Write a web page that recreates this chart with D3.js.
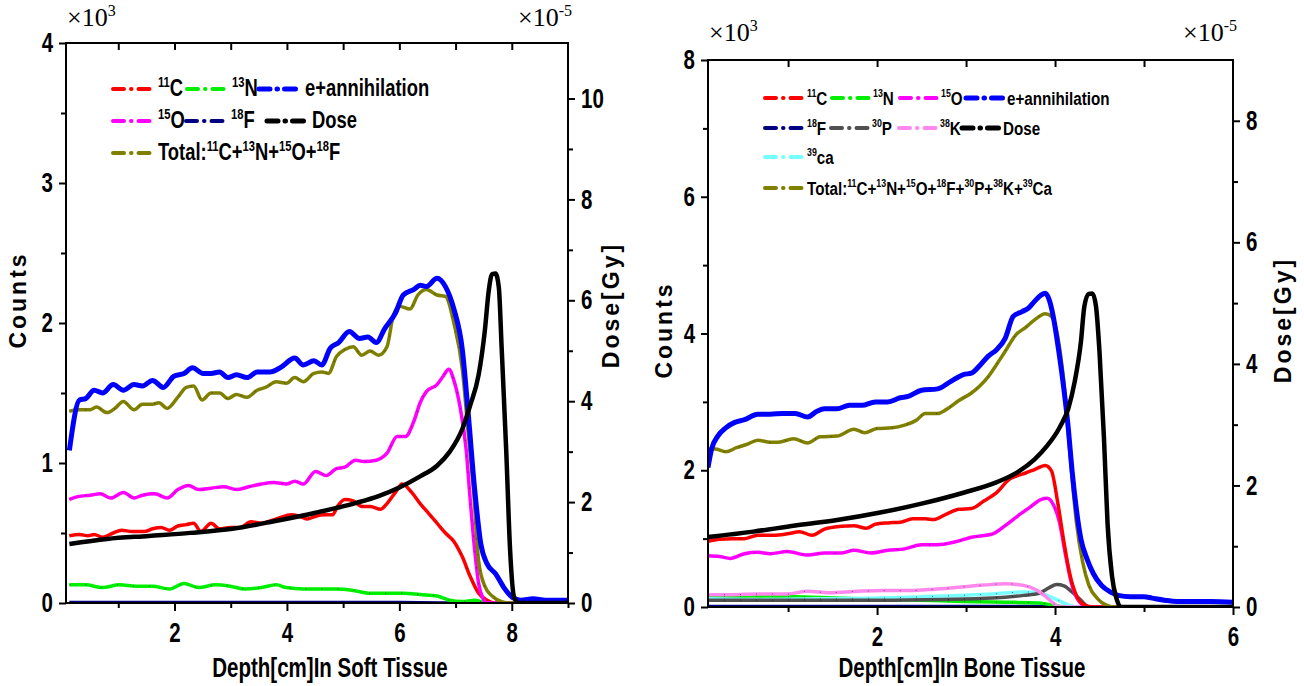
<!DOCTYPE html>
<html>
<head>
<meta charset="utf-8">
<script src="https://cdnjs.cloudflare.com/ajax/libs/d3/7.8.5/d3.min.js"></script>
<style>
  body { margin: 0; background: #fff; }
  .nar { font-family: 'Liberation Sans', Arial, sans-serif; font-weight: bold; transform-box: fill-box; }
  .nar-c { transform-origin: center; transform: scaleX(0.76); }
  .nar-l { transform-origin: left center; transform: scaleX(0.76); }
  .nar-r { transform-origin: right center; transform: scaleX(0.76); }
  .leg { transform-origin: left center; transform: scaleX(0.8); }
</style>
</head>
<body>
<script>
// ---- soft tissue: [depth cm, counts x1e3] / [depth cm, dose] ----
const softC11 = [[0.13,0.48],[0.31,0.49],[0.46,0.48],[0.57,0.49],[0.72,0.47],[0.91,0.50],[1.06,0.52],[1.24,0.51],[1.46,0.51],[1.61,0.53],[1.76,0.54],[1.91,0.52],[2.06,0.55],[2.21,0.56],[2.34,0.57],[2.47,0.51],[2.65,0.57],[2.80,0.53],[2.99,0.54],[3.17,0.54],[3.36,0.58],[3.55,0.57],[3.73,0.59],[3.88,0.61],[4.07,0.63],[4.22,0.62],[4.36,0.60],[4.51,0.62],[4.66,0.63],[4.81,0.63],[4.90,0.69],[5.03,0.74],[5.18,0.73],[5.33,0.69],[5.48,0.69],[5.67,0.67],[5.78,0.71],[5.93,0.79],[6.05,0.85],[6.22,0.79],[6.37,0.71],[6.52,0.64],[6.67,0.57],[6.82,0.50],[6.97,0.44],[7.12,0.33],[7.26,0.19],[7.41,0.07],[7.56,0.02],[7.71,0],[9.0,0]];
const softN13 = [[0.13,0.13],[0.42,0.13],[0.72,0.11],[1.02,0.13],[1.32,0.12],[1.61,0.12],[1.91,0.10],[2.17,0.14],[2.43,0.11],[2.73,0.13],[2.99,0.12],[3.25,0.10],[3.55,0.11],[3.81,0.13],[3.99,0.11],[4.29,0.10],[4.59,0.10],[4.88,0.10],[5.18,0.09],[5.48,0.07],[5.78,0.07],[6.07,0.07],[6.37,0.06],[6.67,0.05],[6.89,0.02],[7.12,0.01],[7.34,0.02],[7.56,0],[9.0,0]];
const softO15 = [[0.13,0.74],[0.28,0.76],[0.50,0.77],[0.68,0.78],[0.87,0.75],[1.09,0.79],[1.28,0.75],[1.43,0.77],[1.65,0.78],[1.87,0.75],[2.06,0.81],[2.25,0.84],[2.43,0.81],[2.65,0.82],[2.88,0.83],[3.10,0.81],[3.32,0.83],[3.55,0.85],[3.77,0.86],[3.99,0.85],[4.14,0.87],[4.29,0.85],[4.51,0.94],[4.70,0.91],[4.88,0.96],[5.03,0.97],[5.22,1.02],[5.37,1.01],[5.59,1.02],[5.78,1.07],[5.96,1.19],[6.11,1.19],[6.26,1.30],[6.37,1.43],[6.48,1.51],[6.67,1.56],[6.78,1.62],[6.88,1.67],[6.97,1.59],[7.08,1.40],[7.19,1.09],[7.26,0.74],[7.34,0.38],[7.41,0.14],[7.49,0.03],[7.56,0],[9.0,0]];
const softF18 = [[0.13,0.005],[3.0,0.005],[6.0,0.005],[7.5,0],[9.0,0]];
const softAnnih = [[0.13,1.09],[0.31,1.45],[0.42,1.46],[0.57,1.52],[0.72,1.50],[0.91,1.56],[1.09,1.52],[1.28,1.56],[1.43,1.55],[1.61,1.59],[1.80,1.54],[1.99,1.62],[2.17,1.64],[2.32,1.68],[2.51,1.64],[2.65,1.64],[2.80,1.65],[2.95,1.61],[3.10,1.63],[3.29,1.61],[3.47,1.65],[3.70,1.65],[3.88,1.68],[4.14,1.75],[4.29,1.70],[4.48,1.73],[4.62,1.70],[4.77,1.82],[4.92,1.86],[5.11,1.94],[5.29,1.89],[5.44,1.90],[5.59,1.86],[5.74,1.96],[5.93,2.07],[6.07,2.20],[6.26,2.24],[6.37,2.27],[6.48,2.26],[6.67,2.32],[6.82,2.26],[6.97,2.10],[7.12,1.81],[7.23,1.33],[7.34,0.81],[7.45,0.42],[7.56,0.28],[7.71,0.21],[7.86,0.11],[8.01,0.04],[8.16,0.02],[8.38,0.03],[8.60,0.02],[9.0,0.02]];
const softTotal = [[0.13,1.37],[0.31,1.38],[0.50,1.38],[0.61,1.40],[0.80,1.36],[0.94,1.39],[1.09,1.44],[1.28,1.38],[1.43,1.42],[1.61,1.42],[1.72,1.43],[1.87,1.39],[2.06,1.47],[2.21,1.54],[2.34,1.55],[2.49,1.45],[2.65,1.50],[2.80,1.50],[2.95,1.46],[3.10,1.49],[3.29,1.47],[3.47,1.52],[3.62,1.54],[3.81,1.58],[3.99,1.57],[4.14,1.61],[4.29,1.58],[4.48,1.64],[4.62,1.65],[4.74,1.64],[4.88,1.76],[5.03,1.81],[5.18,1.83],[5.33,1.77],[5.48,1.80],[5.63,1.77],[5.78,1.83],[5.89,2.05],[6.00,2.12],[6.19,2.10],[6.33,2.20],[6.48,2.24],[6.67,2.20],[6.82,2.19],[6.97,2.00],[7.12,1.67],[7.23,1.19],[7.32,0.80],[7.41,0.30],[7.52,0.12],[7.65,0.05],[7.82,0.01],[7.97,0],[9.0,0]];
const softDose = [[0.13,1.17],[0.80,1.27],[1.54,1.33],[2.28,1.39],[3.03,1.47],[3.77,1.62],[4.51,1.79],[5.25,1.99],[5.63,2.12],[6.00,2.29],[6.37,2.51],[6.67,2.72],[6.89,2.99],[7.12,3.45],[7.26,3.92],[7.41,4.52],[7.52,5.39],[7.59,6.19],[7.65,6.52],[7.71,6.53],[7.77,6.25],[7.82,5.05],[7.90,3.05],[7.97,1.05],[8.04,0.12],[8.12,0],[9.0,0]];

// ---- bone tissue ----
const boneC11 = [[0.10,0.96],[0.23,0.99],[0.37,1.00],[0.51,1.00],[0.66,1.05],[0.84,1.05],[0.99,1.07],[1.13,1.10],[1.27,1.05],[1.41,1.14],[1.60,1.18],[1.74,1.19],[1.88,1.15],[1.98,1.21],[2.12,1.23],[2.26,1.24],[2.40,1.29],[2.54,1.29],[2.64,1.28],[2.78,1.36],[2.92,1.43],[3.06,1.44],[3.20,1.55],[3.34,1.67],[3.49,1.87],[3.58,1.92],[3.67,1.96],[3.77,2.01],[3.89,2.07],[3.96,1.99],[4.03,1.53],[4.10,0.95],[4.17,0.46],[4.24,0.17],[4.33,0.03],[4.43,0],[6.0,0]];
const boneN13 = [[0.10,0.15],[0.61,0.16],[1.08,0.15],[1.55,0.13],[2.02,0.11],[2.50,0.10],[2.97,0.08],[3.44,0.07],[3.82,0.06],[3.96,0.03],[4.10,0],[6.0,0]];
const boneO15 = [[0.10,0.75],[0.23,0.74],[0.35,0.71],[0.51,0.78],[0.66,0.80],[0.80,0.78],[0.99,0.81],[1.22,0.76],[1.41,0.79],[1.60,0.79],[1.74,0.83],[1.93,0.79],[2.12,0.83],[2.31,0.85],[2.50,0.91],[2.68,0.91],[2.87,0.95],[3.06,1.02],[3.30,1.07],[3.44,1.19],[3.58,1.33],[3.72,1.46],[3.84,1.57],[3.91,1.59],[3.98,1.50],[4.05,1.24],[4.12,0.75],[4.19,0.32],[4.26,0.10],[4.36,0],[6.0,0]];
const boneF18 = [[0.10,0.01],[2.0,0.01],[4.0,0.01],[4.5,0],[6.0,0]];
const boneP30 = [[0.10,0.10],[0.61,0.10],[1.32,0.10],[2.02,0.10],[2.73,0.11],[3.30,0.13],[3.65,0.17],[3.82,0.20],[3.93,0.28],[4.02,0.33],[4.10,0.31],[4.19,0.22],[4.29,0.10],[4.38,0],[6.0,0]];
const boneK38 = [[0.10,0.18],[0.37,0.18],[0.66,0.19],[0.99,0.19],[1.22,0.23],[1.46,0.21],[1.79,0.23],[2.07,0.24],[2.35,0.24],[2.64,0.26],[2.92,0.29],[3.20,0.32],[3.44,0.34],[3.58,0.33],[3.72,0.29],[3.86,0.19],[3.96,0.08],[4.05,0],[6.0,0]];
const boneCa39 = [[0.10,0.12],[0.61,0.11],[1.32,0.12],[2.02,0.13],[2.73,0.16],[3.30,0.19],[3.67,0.22],[3.86,0.19],[4.00,0.12],[4.15,0.03],[4.24,0],[6.0,0]];
const boneAnnih = [[0.10,2.04],[0.14,2.31],[0.21,2.50],[0.30,2.62],[0.40,2.70],[0.51,2.74],[0.66,2.82],[0.80,2.82],[0.94,2.83],[1.08,2.83],[1.22,2.78],[1.32,2.86],[1.41,2.90],[1.55,2.90],[1.69,2.95],[1.83,2.95],[1.98,3.00],[2.12,3.00],[2.26,3.06],[2.35,3.08],[2.50,3.17],[2.68,3.19],[2.83,3.30],[2.97,3.40],[3.06,3.42],[3.16,3.54],[3.25,3.67],[3.34,3.76],[3.44,3.93],[3.53,4.25],[3.63,4.32],[3.70,4.37],[3.77,4.47],[3.84,4.56],[3.89,4.59],[3.93,4.51],[3.98,4.25],[4.04,3.76],[4.10,3.18],[4.15,2.60],[4.19,2.01],[4.24,1.43],[4.29,1.00],[4.36,0.70],[4.43,0.49],[4.52,0.32],[4.62,0.22],[4.71,0.17],[4.85,0.15],[5.00,0.15],[5.09,0.13],[5.23,0.10],[5.37,0.08],[5.56,0.08],[5.75,0.08],[6.0,0.07]];
const boneTotal = [[0.10,2.31],[0.18,2.31],[0.30,2.27],[0.42,2.33],[0.54,2.38],[0.66,2.44],[0.80,2.41],[0.89,2.41],[1.06,2.46],[1.22,2.40],[1.36,2.49],[1.55,2.50],[1.74,2.60],[1.86,2.55],[2.00,2.61],[2.17,2.62],[2.31,2.66],[2.45,2.74],[2.54,2.83],[2.68,2.83],[2.78,2.89],[2.92,3.02],[3.06,3.13],[3.16,3.24],[3.25,3.37],[3.34,3.54],[3.44,3.74],[3.56,3.98],[3.67,4.09],[3.77,4.20],[3.89,4.29],[3.96,4.25],[4.03,3.96],[4.10,3.28],[4.17,2.21],[4.24,1.24],[4.31,0.66],[4.38,0.32],[4.48,0.12],[4.57,0.03],[4.67,0],[6.0,0]];
const boneDose = [[0.10,1.15],[0.61,1.24],[1.08,1.34],[1.55,1.43],[2.02,1.55],[2.50,1.70],[2.97,1.88],[3.34,2.05],[3.58,2.22],[3.77,2.43],[3.91,2.65],[4.05,2.95],[4.15,3.27],[4.22,3.70],[4.29,4.35],[4.33,4.95],[4.38,5.15],[4.42,5.16],[4.46,4.95],[4.50,4.19],[4.55,2.78],[4.59,1.38],[4.64,0.51],[4.69,0.14],[4.74,0],[6.0,0]];

// tick values
const softDepthTicks = [2, 4, 6, 8];
const softDepthMinor = [1, 3, 5, 7, 9];
const softCountTicks = [0, 1, 2, 3, 4];
const softDoseTicks = [0, 2, 4, 6, 8, 10];
const boneDepthTicks = [2, 4, 6];
const boneDepthMinor = [1, 3, 5];
const boneCountTicks = [0, 2, 4, 6, 8];
const boneDoseTicks = [0, 2, 4, 6, 8];

const W = 1304, H = 686;
const svg = d3.select('body').append('svg')
    .attr('width', W)
    .attr('height', H);

const SANS = "'Liberation Sans',Arial,sans-serif";
const SERIF = "'Liberation Serif','Times New Roman',serif";

const colors = {
    c11: '#ff0000', n13: '#00ee00', o15: '#ff00ff', f18: '#000080',
    annih: '#0000ff', dose: '#000000', total: '#808000',
    p30: '#505050', k38: '#ff88ee', ca39: '#77ffff'
};

function drawPanel(p) {
    const x = d3.scaleLinear().domain(p.xDomain).range([p.left, p.right]);
    const y = d3.scaleLinear().domain(p.countDomain).range([p.bottom, p.top]);
    const yd = d3.scaleLinear().domain(p.doseDomain).range([p.bottom, p.top]);
    const g = svg.append('g');

    const clipId = 'clip' + p.id;
    svg.append('clipPath').attr('id', clipId)
        .append('rect')
        .attr('x', p.left).attr('y', p.top)
        .attr('width', p.right - p.left).attr('height', p.bottom - p.top);

    const plot = g.append('g').attr('clip-path', 'url(#' + clipId + ')');
    p.series.forEach(s => {
        const ys = s.dose ? yd : y;
        const line = d3.line()
            .x(d => x(d[0]))
            .y(d => ys(d[1]))
            .curve(d3.curveMonotoneX);
        plot.append('path')
            .datum(s.data)
            .attr('d', line)
            .attr('fill', 'none')
            .attr('stroke', s.color)
            .attr('stroke-width', s.width)
            .attr('stroke-linejoin', 'round');
        // faint dot pattern seen along the curves
        if (!s.dose) {
            plot.append('path')
                .datum(s.data)
                .attr('d', line)
                .attr('fill', 'none')
                .attr('stroke', '#000')
                .attr('stroke-width', 1)
                .attr('stroke-opacity', 0.55)
                .attr('stroke-dasharray', '1,15');
        }
    });

    // frame
    g.append('rect')
        .attr('x', p.left).attr('y', p.top)
        .attr('width', p.right - p.left).attr('height', p.bottom - p.top)
        .attr('fill', 'none').attr('stroke', '#000').attr('stroke-width', 2);

    const styleAxis = (sel, cls) => {
        sel.select('.domain').remove();
        sel.attr('font-family', null).attr('font-size', null);
        sel.selectAll('line').attr('stroke', '#000').attr('stroke-width', 2);
        sel.selectAll('text')
            .attr('class', 'nar ' + cls)
            .attr('font-size', 27)
            .attr('fill', '#000');
    };

    // bottom
    g.append('g').attr('transform', `translate(0,${p.bottom})`)
        .call(d3.axisBottom(x).tickValues(p.xMinor).tickSize(5).tickFormat(''))
        .call(s => styleAxis(s, 'nar-c'));
    g.append('g').attr('transform', `translate(0,${p.bottom})`)
        .call(d3.axisBottom(x).tickValues(p.xTicks).tickSize(8).tickPadding(12).tickFormat(d3.format('d')))
        .call(s => styleAxis(s, 'nar-c'));
    // top (inward)
    g.append('g').attr('transform', `translate(0,${p.top})`)
        .call(d3.axisBottom(x).tickValues(p.xTop).tickSize(7).tickFormat(''))
        .call(s => styleAxis(s, 'nar-c'));

    // left counts
    const cMinor = d3.pairs(p.countTicks).map(d => (d[0] + d[1]) / 2);
    g.append('g').attr('transform', `translate(${p.left},0)`)
        .call(d3.axisLeft(y).tickValues(cMinor).tickSize(5).tickFormat(''))
        .call(s => styleAxis(s, 'nar-r'));
    g.append('g').attr('transform', `translate(${p.left},0)`)
        .call(d3.axisLeft(y).tickValues(p.countTicks).tickSize(7).tickPadding(6).tickFormat(d3.format('d')))
        .call(s => styleAxis(s, 'nar-r'));

    // right dose
    const dMinor = d3.pairs(p.doseTicks).map(d => (d[0] + d[1]) / 2);
    g.append('g').attr('transform', `translate(${p.right},0)`)
        .call(d3.axisRight(yd).tickValues(dMinor).tickSize(5).tickFormat(''))
        .call(s => styleAxis(s, 'nar-l'));
    g.append('g').attr('transform', `translate(${p.right},0)`)
        .call(d3.axisRight(yd).tickValues(p.doseTicks).tickSize(7).tickPadding(6).tickFormat(d3.format('d')))
        .call(s => styleAxis(s, 'nar-l'));

    // multipliers
    const mult = (tx, exp) => {
        const t = g.append('text')
            .attr('x', tx).attr('y', p.top - p.multGap)
            .attr('font-family', SERIF).attr('font-size', 26).attr('fill', '#000');
        t.append('tspan').text('\u00d710');
        t.append('tspan').attr('font-size', 16).attr('dy', -10).text(exp);
    };
    mult(p.left + 1, '3');
    mult(p.right - 50, '-5');

    // titles
    g.append('text')
        .attr('transform', `translate(${p.countTitleX},${p.countTitleY}) rotate(-90)`)
        .attr('text-anchor', 'middle')
        .attr('font-family', SANS).attr('font-weight', 'bold').attr('font-size', 23)
        .attr('letter-spacing', 3)
        .text('Counts');
    g.append('text')
        .attr('transform', `translate(${p.doseTitleX},${p.doseTitleY}) rotate(-90)`)
        .attr('text-anchor', 'middle')
        .attr('font-family', SANS).attr('font-weight', 'bold').attr('font-size', 23)
        .attr('letter-spacing', 3)
        .text('Dose[Gy]');
    g.append('text')
        .attr('class', 'nar nar-c')
        .attr('x', p.xTitleX).attr('y', p.xTitleY)
        .attr('text-anchor', 'middle')
        .attr('font-size', 27)
        .text(p.xTitle);

    // legend
    p.legend.forEach(item => {
        const len = 38;
        g.append('line')
            .attr('x1', item.x).attr('x2', item.x + len)
            .attr('y1', item.y - 7).attr('y2', item.y - 7)
            .attr('stroke', item.color).attr('stroke-width', item.lw || 4)
            .attr('stroke-linecap', 'round')
            .attr('stroke-dasharray', '11,7,0.5,7,11');
        const t = g.append('text')
            .attr('class', 'nar leg')
            .attr('x', item.x + len + item.gap).attr('y', item.y)
            .attr('font-size', p.legendSize).attr('fill', '#000');
        let shift = 0;
        const rise = Math.round(p.legendSize * 0.4);
        item.label.forEach(seg => {
            if (seg.sup) {
                t.append('tspan').attr('font-size', Math.round(p.legendSize * 0.6)).attr('dy', -rise).text(seg.sup);
                shift = rise;
            } else {
                t.append('tspan').attr('dy', shift).text(seg.t);
                shift = 0;
            }
        });
    });
}

const S = (t) => ({ t: t });
const U = (t) => ({ sup: t });

drawPanel({
    id: 'soft',
    left: 66, right: 568, top: 43, bottom: 603, multGap: 17,
    xDomain: [0.07, 9], countDomain: [0, 4], doseDomain: [0, 11.1],
    xTicks: softDepthTicks, xMinor: softDepthMinor, xTop: [1, 2, 3, 4, 5, 6, 7, 8],
    countTicks: softCountTicks, doseTicks: softDoseTicks,
    xTitle: 'Depth[cm]In Soft Tissue', xTitleX: 330, xTitleY: 677,
    countTitleX: 26, countTitleY: 300, doseTitleX: 619, doseTitleY: 305,
    legendSize: 23,
    series: [
        { data: softF18, color: colors.f18, width: 3 },
        { data: softN13, color: colors.n13, width: 3.5 },
        { data: softC11, color: colors.c11, width: 3.5 },
        { data: softO15, color: colors.o15, width: 3.5 },
        { data: softTotal, color: colors.total, width: 3.5 },
        { data: softAnnih, color: colors.annih, width: 5 },
        { data: softDose, color: colors.dose, width: 4.5, dose: true }
    ],
    legend: [
        { x: 113, y: 96, color: colors.c11, gap: 7, label: [U('11'), S('C')] },
        { x: 187, y: 96, color: colors.n13, gap: 7, label: [U('13'), S('N')] },
        { x: 259, y: 96, color: colors.annih, gap: 8, lw: 5, label: [S('e+annihilation')] },
        { x: 113, y: 128, color: colors.o15, gap: 7, label: [U('15'), S('O')] },
        { x: 186, y: 128, color: colors.f18, gap: 7, label: [U('18'), S('F')] },
        { x: 267, y: 128, color: colors.dose, gap: 7, lw: 5, label: [S('Dose')] },
        { x: 113, y: 160, color: colors.total, gap: 7, label: [S('Total:'), U('11'), S('C+'), U('13'), S('N+'), U('15'), S('O+'), U('18'), S('F')] }
    ]
});

drawPanel({
    id: 'bone',
    left: 708, right: 1233, top: 60, bottom: 607, multGap: 19,
    xDomain: [0.1, 6], countDomain: [0, 8], doseDomain: [0, 9],
    xTicks: boneDepthTicks, xMinor: boneDepthMinor, xTop: [1, 2, 3, 4, 5],
    countTicks: boneCountTicks, doseTicks: boneDoseTicks,
    xTitle: 'Depth[cm]In Bone Tissue', xTitleX: 962, xTitleY: 677,
    countTitleX: 672, countTitleY: 330, doseTitleX: 1291, doseTitleY: 320,
    legendSize: 19,
    series: [
        { data: boneF18, color: colors.f18, width: 3 },
        { data: boneN13, color: colors.n13, width: 3.5 },
        { data: boneCa39, color: colors.ca39, width: 3.5 },
        { data: boneP30, color: colors.p30, width: 3.5 },
        { data: boneK38, color: colors.k38, width: 3.5 },
        { data: boneO15, color: colors.o15, width: 3.5 },
        { data: boneC11, color: colors.c11, width: 3.5 },
        { data: boneTotal, color: colors.total, width: 3.5 },
        { data: boneAnnih, color: colors.annih, width: 5 },
        { data: boneDose, color: colors.dose, width: 4.5, dose: true }
    ],
    legend: [
        { x: 765, y: 105, color: colors.c11, gap: 4, label: [U('11'), S('C')] },
        { x: 832, y: 105, color: colors.n13, gap: 3, label: [U('13'), S('N')] },
        { x: 900, y: 105, color: colors.o15, gap: 3, label: [U('15'), S('O')] },
        { x: 966, y: 105, color: colors.annih, gap: 3, lw: 5, label: [S('e+annihilation')] },
        { x: 765, y: 135, color: colors.f18, gap: 4, label: [U('18'), S('F')] },
        { x: 831, y: 135, color: colors.p30, gap: 3, label: [U('30'), S('P')] },
        { x: 899, y: 135, color: colors.k38, gap: 3, label: [U('38'), S('K')] },
        { x: 962, y: 135, color: colors.dose, gap: 3, lw: 5, label: [S('Dose')] },
        { x: 765, y: 164, color: colors.ca39, gap: 4, label: [U('39'), S('ca')] },
        { x: 765, y: 195, color: colors.total, gap: 4, label: [S('Total:'), U('11'), S('C+'), U('13'), S('N+'), U('15'), S('O+'), U('18'), S('F+'), U('30'), S('P+'), U('38'), S('K+'), U('39'), S('Ca')] }
    ]
});
</script>
</body>
</html>
